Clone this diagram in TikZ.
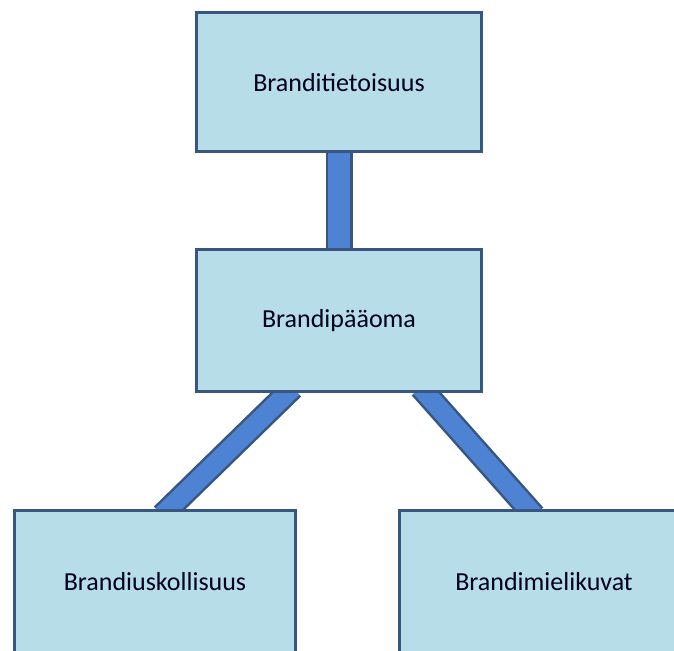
\documentclass[tikz,border=0pt]{standalone}
\usepackage{fontspec}
\setmainfont{Carlito}
\usetikzlibrary{positioning,calc,backgrounds}

\definecolor{boxfill}{RGB}{183,221,232}
\definecolor{boxline}{RGB}{56,86,128}
\definecolor{linkblue}{RGB}{78,130,210}

\begin{document}
\begin{tikzpicture}[x=1pt, y=1pt,
    box/.style={draw=boxline, line width=3pt, fill=boxfill, minimum width=285pt, minimum height=139pt,
                text=black!88!blue, font=\fontsize{26}{30}\selectfont},
    link/.style={draw=boxline, line width=2.5pt, double=linkblue, double distance=#1,
                 shorten <=-8pt, shorten >=-8pt}]
    \useasboundingbox (0,0) rectangle (674,650);
    \clip (0,0) rectangle (674,650);
    \node[box] (tieto) at (339,567.5) {Branditietoisuus};
    \node[box, minimum height=142pt, below=95pt of tieto] (paaoma) {Brandipääoma};
    \node[box, minimum width=281pt, minimum height=142pt] (uskoll) at (155,68) {Brandiuskollisuus};
    \node[box, minimum width=290pt, minimum height=142pt] (mieli) at (544,68) {Brandimielikuvat};
    % connectors behind the boxes
    \begin{scope}[on background layer]
        \draw[link=22pt] (tieto.south) -- (paaoma.north);
        \draw[link=19pt] ($(paaoma.south)+(-52,0)$) -- ($(uskoll.north)+(13,0)$);
        \draw[link=19pt] ($(paaoma.south)+(87,0)$) -- ($(mieli.north)+(-15,0)$);
    \end{scope}
\end{tikzpicture}
\end{document}
